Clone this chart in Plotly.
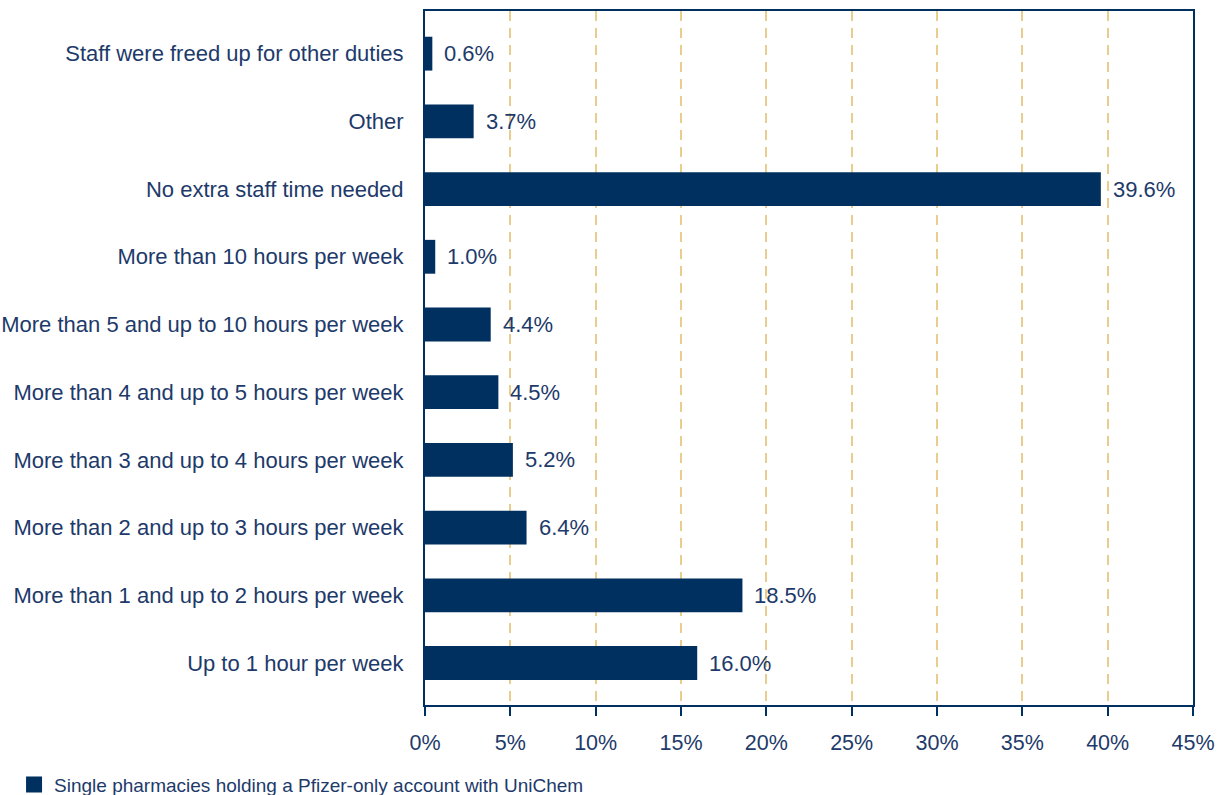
import plotly.graph_objects as go

categories = [
    "Up to 1 hour per week",
    "More than 1 and up to 2 hours per week",
    "More than 2 and up to 3 hours per week",
    "More than 3 and up to 4 hours per week",
    "More than 4 and up to 5 hours per week",
    "More than 5 and up to 10 hours per week",
    "More than 10 hours per week",
    "No extra staff time needed",
    "Other",
    "Staff were freed up for other duties",
]
# bar lengths as drawn in the picture (%)
values = [15.95, 18.6, 5.95, 5.15, 4.3, 3.85, 0.6, 39.6, 2.85, 0.43]
# value labels printed next to the bars
value_labels = ["16.0%", "18.5%", "6.4%", "5.2%", "4.5%", "4.4%", "1.0%", "39.6%", "3.7%", "0.6%"]
x_ticks = [0, 5, 10, 15, 20, 25, 30, 35, 40, 45]
x_tick_labels = [f"{t}%" for t in x_ticks]
series_name = "Single pharmacies holding a Pfizer-only account with UniChem"

NAVY = "#00305f"
TEXT = "#1d3a6a"
GRID = "#e8cd8e"
FONT = "Liberation Sans"

fig = go.Figure()
fig.add_trace(go.Bar(
    y=categories, x=values, orientation="h", width=0.5,
    marker=dict(color=NAVY, line=dict(width=0)),
    name=series_name, showlegend=False,
))
# legend entry (square swatch)
fig.add_trace(go.Scatter(
    x=[None], y=[None], mode="markers", name=series_name,
    marker=dict(symbol="square", size=18, color=NAVY, line=dict(width=0)),
    showlegend=True,
))

for c, v, t in zip(categories, values, value_labels):
    fig.add_annotation(x=v, y=c, text=t, showarrow=False, xanchor="left",
                       yanchor="middle", xshift=10,
                       font=dict(family=FONT, size=22, color=TEXT))

fig.update_layout(
    width=1222, height=795,
    margin=dict(l=425, r=29, t=11, b=90, autoexpand=False),
    plot_bgcolor="white", paper_bgcolor="white",
    font=dict(family=FONT, size=19, color=TEXT),
    bargap=0.5,
    xaxis=dict(
        range=[0, 45], tickvals=x_ticks, ticktext=x_tick_labels,
        showgrid=True, gridcolor=GRID, gridwidth=1.5, griddash="10px,7px",
        showline=True, linecolor=NAVY, linewidth=2, mirror=True,
        ticks="outside", ticklen=9, tickwidth=2, tickcolor=NAVY,
        zeroline=False, ticklabelstandoff=8, automargin=False,
        tickfont=dict(family=FONT, size=21.5, color=TEXT),
    ),
    yaxis=dict(
        range=[-0.62, 9.63], showgrid=False, zeroline=False,
        showline=True, linecolor=NAVY, linewidth=2, mirror=True,
        ticks="", ticklabelstandoff=15, automargin=False,
        tickfont=dict(family=FONT, size=22, color=TEXT),
    ),
    legend=dict(
        orientation="h", xref="container", yref="container",
        x=0.0115, y=0.013, xanchor="left", yanchor="middle",
        font=dict(family=FONT, size=19, color=TEXT),
        bgcolor="rgba(0,0,0,0)", itemwidth=30,
    ),
)

fig.write_html("out.html")
